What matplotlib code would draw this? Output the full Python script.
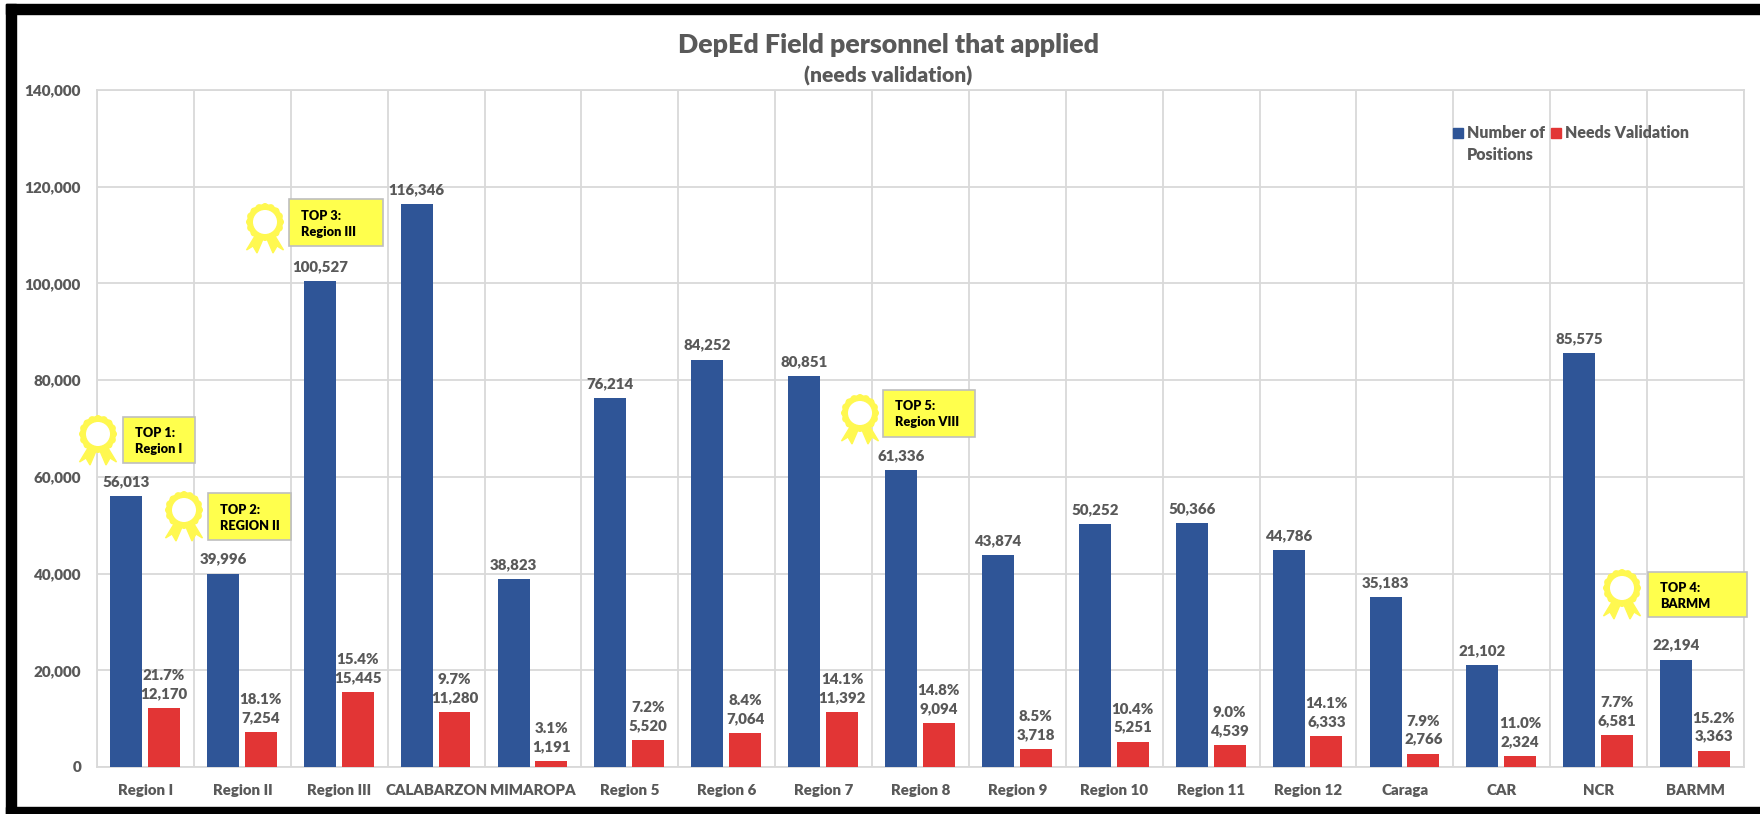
import matplotlib
matplotlib.use("Agg")
import matplotlib.pyplot as plt
from matplotlib.patches import Rectangle, Circle, Polygon
import numpy as np

categories = ["Region I", "Region II", "Region III", "CALABARZON", "MIMAROPA", "Region 5", "Region 6",
              "Region 7", "Region 8", "Region 9", "Region 10", "Region 11", "Region 12", "Caraga", "CAR", "NCR", "BARMM"]
positions = [56013, 39996, 100527, 116346, 38823, 76214, 84252, 80851, 61336, 43874, 50252, 50366, 44786, 35183, 21102, 85575, 22194]
validation = [12170, 7254, 15445, 11280, 1191, 5520, 7064, 11392, 9094, 3718, 5251, 4539, 6333, 2766, 2324, 6581, 3363]
percents = ["21.7%", "18.1%", "15.4%", "9.7%", "3.1%", "7.2%", "8.4%", "14.1%", "14.8%", "8.5%", "10.4%", "9.0%", "14.1%", "7.9%", "11.0%", "7.7%", "15.2%"]
callouts = [("TOP 1:\nRegion I", 123, 417, 72, 46, 98, 434),
            ("TOP 2:\nREGION II", 208, 493, 83, 47, 184, 510),
            ("TOP 3:\nRegion III", 289, 199, 94, 47, 265, 222),
            ("TOP 5:\nRegion VIII", 883, 390, 92, 47, 860, 413),
            ("TOP 4:\nBARMM", 1648, 572, 99, 45, 1622, 588)]

W, H = 1760, 814
GREY = "#595959"
plt.rcParams["font.family"] = ["Lato", "DejaVu Sans"]
plt.rcParams["font.weight"] = "heavy"
fig = plt.figure(figsize=(W / 100, H / 100), dpi=100, facecolor="white")
L, R, T, B = 97, 1744, 90, 767
ax = fig.add_axes([L / W, 1 - B / H, (R - L) / W, (B - T) / H])
x = np.arange(len(categories))
bw = 0.33
ax.bar(x - 0.2, positions, bw, color="#2F5597", zorder=3)
ax.bar(x + 0.19, validation, bw, color="#E23535", zorder=3)
ax.set_xlim(-0.5, len(categories) - 0.5)
ax.set_ylim(0, 140000)
ax.set_yticks(np.arange(0, 140001, 20000))
ax.set_yticklabels([f"{v:,}" for v in range(0, 140001, 20000)], fontsize=11, color=GREY)
ax.set_xticks(x)
ax.set_xticklabels(categories, fontsize=10.8, color=GREY)
ax.set_xticks(np.arange(-0.5, len(categories)), minor=True)
ax.grid(True, which="minor", axis="x", color="#D9D9D9", lw=1.3, zorder=0)
ax.grid(True, which="major", axis="y", color="#D9D9D9", lw=1.3, zorder=0)
ax.tick_params(which="both", length=0)
ax.tick_params(axis="x", pad=12)
ax.tick_params(axis="y", pad=11.5)
for s in ax.spines.values():
    s.set_color("#D9D9D9")
    s.set_linewidth(1.3)
for i in x:
    ax.annotate(f"{positions[i]:,}", (i - 0.2, positions[i]), xytext=(0, 8), textcoords="offset pixels",
                ha="center", va="bottom", fontsize=10.8, color=GREY, zorder=5)
    ax.annotate(f"{percents[i]}\n{validation[i]:,}", (i + 0.19, validation[i]), xytext=(0, 8),
                textcoords="offset pixels", ha="center", va="bottom", fontsize=10.8, color=GREY,
                linespacing=1.46, zorder=5)

fig.text(888 / W, 1 - 45 / H, "DepEd Field personnel that applied", ha="center", va="center",
         fontsize=19.3, color=GREY)
fig.text(888 / W, 1 - 76 / H, "(needs validation)", ha="center", va="center", fontsize=15.2, color=GREY)

# overlay in pixel coordinates
ov = fig.add_axes([0, 0, 1, 1], facecolor="none", zorder=10)
ov.set_xlim(0, W)
ov.set_ylim(H, 0)
ov.axis("off")
for px, col in ((1453, "#2F5597"), (1551, "#E23535")):
    ov.add_patch(Rectangle((px, 128), 10, 10, color=col))
ov.text(1467, 144, "Number of\nPositions", ha="left", va="center", fontsize=11.5, color=GREY, linespacing=1.42)
ov.text(1565, 133, "Needs Validation", ha="left", va="center", fontsize=11.5, color=GREY)

YEL = "#FFFF4D"
RING = "#FFF850"
for txt, bx, by, bw_, bh_, cx, cy in callouts:
    ov.add_patch(Rectangle((bx, by), bw_, bh_, fc=YEL, ec="#BFBFBF", lw=1.2))
    ov.text(bx + 12, by + bh_ / 2 + 1, txt, ha="left", va="center", fontsize=9.2, color="black", linespacing=1.4)
    for dx in (-1, 1):
        ov.add_patch(Polygon([(cx + dx * 2, cy + 17), (cx + dx * 10, cy + 14), (cx + dx * 18.5, cy + 28),
                              (cx + dx * 12, cy + 24), (cx + dx * 8, cy + 31)], color=RING))
    for a in np.linspace(0, 2 * np.pi, 16, endpoint=False):
        ov.add_patch(Circle((cx + 15.5 * np.cos(a), cy + 15.5 * np.sin(a)), 2.8, color=RING))
    ov.add_patch(Circle((cx, cy), 15, fc="white", ec=RING, lw=4.3))

# black frame of the screenshot
ov.add_patch(Rectangle((6, 4), W - 6, 10, color="black"))
ov.add_patch(Rectangle((6, 4), 10, H - 4, color="black"))
ov.add_patch(Rectangle((6, 807), W - 6, 7, color="black"))
fig.savefig("out.png", dpi=100, facecolor="white")
